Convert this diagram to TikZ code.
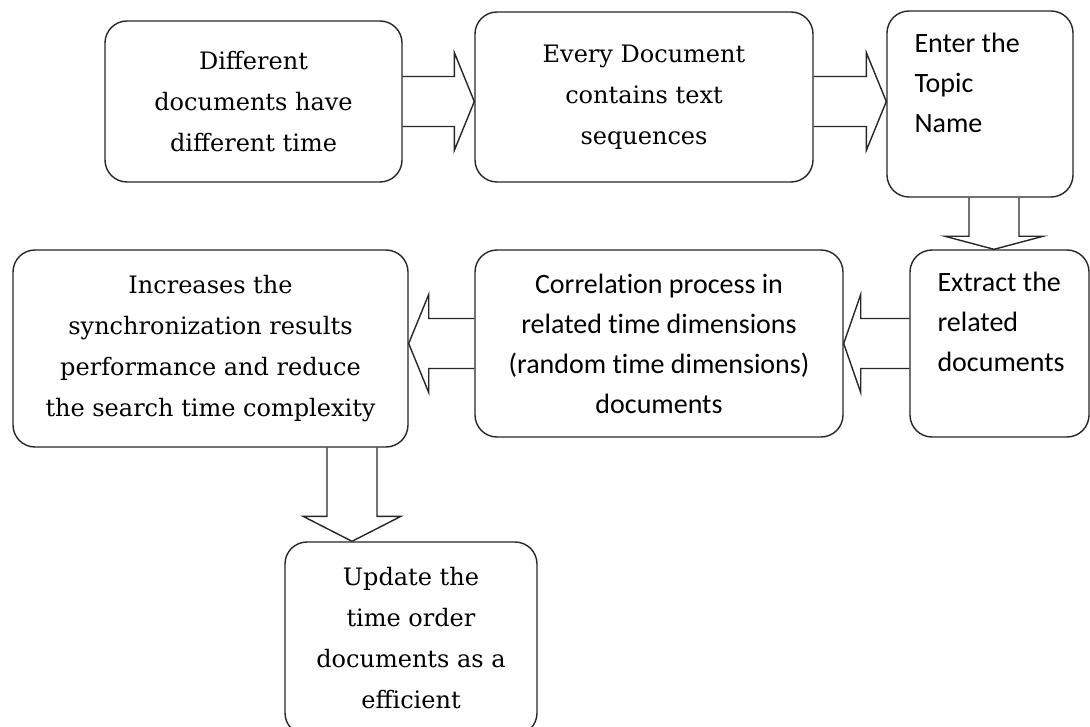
\documentclass[tikz,border=0pt]{standalone}
\usepackage{fontspec}
\setmainfont{DejaVu Serif}
\setsansfont{Carlito}[Ligatures={NoCommon}]
\usetikzlibrary{positioning,calc}

\tikzset{
  procbox/.style={draw=black!85, line width=1.4pt, rounded corners=22pt, inner sep=0pt, align=center},
  fatarrow/.style={draw=black!85, line width=1.4pt, line join=miter},
  seriftext/.style={font=\fontsize{24pt}{41pt}\selectfont},
  sanstext/.style={font=\sffamily\fontsize{28pt}{40pt}\selectfont}
}
% hollow block arrow: [head length]{tail}{tip}
\newcommand{\fatarrow}[3][20pt]{%
  \draw[fatarrow] ($(#2)!25pt!90:(#3)$) -- ($($(#3)!#1!(#2)$)!25pt!90:(#3)$) -- ($($(#3)!#1!(#2)$)!49pt!90:(#3)$) -- (#3)
    -- ($($(#3)!#1!(#2)$)!49pt!-90:(#3)$) -- ($($(#3)!#1!(#2)$)!25pt!-90:(#3)$) -- ($(#2)!25pt!-90:(#3)$);}

\begin{document}
\begin{tikzpicture}[x=1pt, y=-1pt]
\useasboundingbox (0,0) rectangle (1090,727);
% top row
\node[procbox, seriftext, minimum width=297pt, minimum height=161pt] (diff) at (253.5,101.5) {Different\\documents have\\different time};
\node[procbox, seriftext, minimum width=338pt, minimum height=170pt] (every) at (644,97) {Every Document\\contains text\\sequences};
\node[procbox, minimum width=186pt, minimum height=186pt] (topic) at (980,104) {};
\node[sanstext, anchor=north west, inner sep=0pt, align=left] (topic-txt) at ([shift={(28,23)}]topic.north west) {Enter the\\Topic\\Name};
% middle row
\node[procbox, minimum width=179pt, minimum height=187pt] (extract) at (999.5,343.5) {};
\node[sanstext, anchor=north west, inner sep=0pt, align=left] (extract-txt) at ([shift={(28,23)}]extract.north west) {Extract the\\related\\documents};
\node[procbox, sanstext, minimum width=368pt, minimum height=187pt] (corr) at (659,343.5) {Correlation process in\\related time dimensions\\(random time dimensions)\\documents};
\node[procbox, seriftext, minimum width=395pt, minimum height=197pt] (incr) at (210.5,348.5) {Increases the\\synchronization results\\performance and reduce\\the search time complexity};
% last step
\node[procbox, seriftext, minimum width=252pt, minimum height=193pt] (update) at (411,638.5) {Update the\\time order\\documents as a\\efficient};

% block arrows
\fatarrow{diff.east}{every.west |- diff.east}
\fatarrow{every.east |- diff.east}{topic.west |- diff.east}
\coordinate (c-out) at ([xshift=14pt]topic.south);
\fatarrow[13pt]{c-out}{c-out |- extract.north}
\fatarrow[17pt]{extract.west}{corr.east |- extract.west}
\fatarrow{corr.west}{incr.east |- corr.west}
\coordinate (g-in) at ([xshift=-59pt]update.north);
\fatarrow[25pt]{incr.south -| g-in}{g-in}
\end{tikzpicture}
\end{document}
